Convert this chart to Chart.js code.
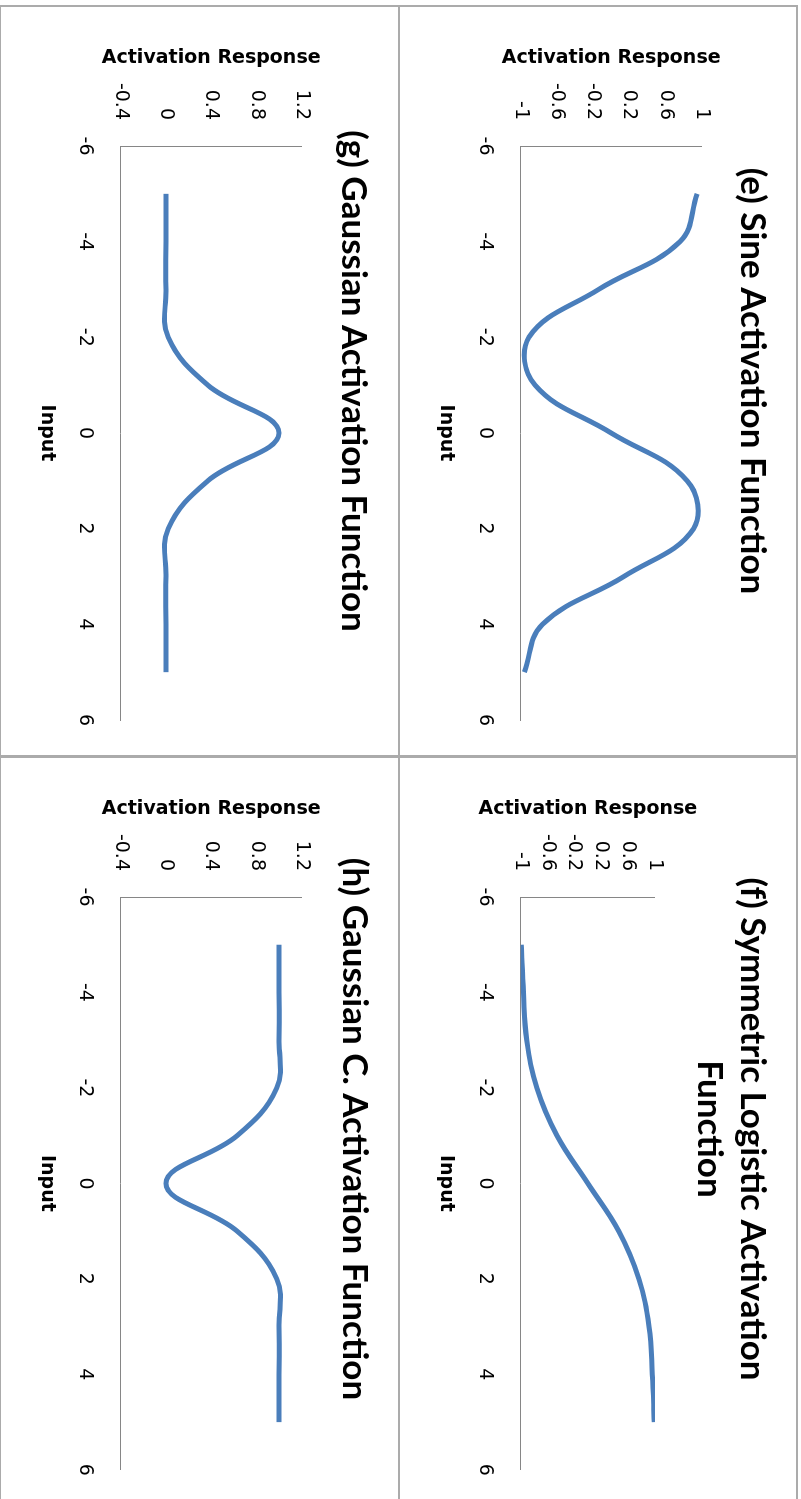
<!DOCTYPE html>
<html><head><meta charset="utf-8">
<script src="https://cdn.jsdelivr.net/npm/chart.js@4/dist/chart.umd.min.js"></script>
<style>
html,body{margin:0;padding:0;background:#fff;overflow:hidden;width:801px;height:1499px;}
#stage{position:absolute;left:0;top:0;width:1499px;height:801px;transform-origin:0 0;transform:translate(801px,0) rotate(90deg);}
.panel{position:absolute;box-sizing:border-box;border:2px solid #ababab;background:#fff;overflow:hidden;}
.panel canvas{position:absolute;left:0;top:0;}
</style></head><body>
<div id="stage">
 <div class="panel" style="left:5px;top:3px;width:752px;height:400px"><canvas id="ce" width="748" height="396"></canvas></div>
 <div class="panel" style="left:756px;top:3px;width:746px;height:400px"><canvas id="cf" width="742" height="396"></canvas></div>
 <div class="panel" style="left:5px;top:401px;width:752px;height:401px"><canvas id="cg" width="748" height="397"></canvas></div>
 <div class="panel" style="left:756px;top:401px;width:746px;height:401px"><canvas id="ch" width="742" height="397"></canvas></div>
</div>
<script>
// ---- data ----
const inputs = [-5, -4, -3, -2, -1, 0, 1, 2, 3, 4, 5];
const sineValues = [0.95, 0.76, -0.14, -0.91, -0.84, 0, 0.84, 0.91, 0.14, -0.76, -0.96];
const symLogisticValues = [-0.99, -0.96, -0.91, -0.76, -0.46, 0, 0.46, 0.76, 0.91, 0.96, 0.99];
const gaussianValues = [0, 0, 0, 0.02, 0.37, 1, 0.37, 0.02, 0, 0, 0];
const gaussianCValues = [1, 1, 1, 0.98, 0.63, 0, 0.63, 0.98, 1, 1, 1];
const xTicks = [-6, -4, -2, 0, 2, 4, 6];
const yTicksSym = [-1, -0.6, -0.2, 0.2, 0.6, 1];
const yTicksGauss = [-0.4, 0, 0.4, 0.8, 1.2];
const titleE = '(e) Sine Activation Function';
const titleF = ['(f) Symmetric Logistic Activation', 'Function'];
const titleG = '(g) Gaussian Activation Function';
const titleH = '(h) Gaussian C. Activation Function';
const xAxisTitle = 'Input';
const yAxisTitle = 'Activation Response';

// ---- style / layout ----
const TITLE_FONT = 'Lato, "Open Sans", "DejaVu Sans", sans-serif';
const AXIS_FONT = '"DejaVu Sans", "Open Sans", sans-serif';
const LINE_COLOR = '#4a7ebb';
const AXIS_COLOR = '#868686';
const TITLE_SIZE = 35, TITLE_LH = 43;
const AXT_SIZE = 19, AXT_LH = 19 * 1.2;
const TICK_SIZE = 19, TICK_LH = 19 * 1.2;
const fmt = v => String(Math.round(v * 10) / 10);

function makeChart(id, title, values, yTicks, layout) {
  const canvas = document.getElementById(id);
  const W = canvas.width, H = canvas.height;
  const lines = Array.isArray(title) ? title.length : 1;
  const tPadTop = layout.titleCenter - TITLE_LH / 2;
  const tPadBottom = layout.top - tPadTop - lines * TITLE_LH;
  return new Chart(canvas, {
    type: 'line',
    data: {
      datasets: [{
        data: inputs.map((x, i) => ({x: x, y: values[i]})),
        borderColor: LINE_COLOR,
        borderWidth: 5,
        pointRadius: 0,
        tension: 0.4,
        fill: false
      }]
    },
    options: {
      responsive: false,
      animation: false,
      devicePixelRatio: 1,
      layout: {padding: 0},
      plugins: {
        legend: {display: false},
        tooltip: {enabled: false},
        title: {
          display: true,
          text: title,
          color: '#000',
          font: {family: TITLE_FONT, size: TITLE_SIZE, weight: 'bold', lineHeight: TITLE_LH / TITLE_SIZE},
          padding: {top: tPadTop, bottom: tPadBottom}
        }
      },
      scales: {
        x: {
          type: 'linear', position: 'bottom', min: xTicks[0], max: xTicks[xTicks.length - 1],
          grid: {display: false, drawTicks: false},
          border: {display: true, color: AXIS_COLOR, width: 1},
          ticks: {color: '#000', font: {family: AXIS_FONT, size: TICK_SIZE}, padding: 35.5 - TICK_LH / 2, autoSkip: false, maxRotation: 0, callback: fmt},
          afterBuildTicks: s => { s.ticks = xTicks.map(v => ({value: v})); },
          title: {display: true, text: xAxisTitle, color: '#000', font: {family: AXIS_FONT, size: AXT_SIZE, weight: 'bold'}, padding: {top: 0, bottom: 46 - AXT_LH / 2}},
          afterFit: s => { s.height = H - layout.bottom; }
        },
        y: {
          type: 'linear', position: 'left', min: yTicks[0], max: yTicks[yTicks.length - 1],
          grid: {display: false, drawTicks: false},
          border: {display: true, color: AXIS_COLOR, width: 1},
          ticks: {color: '#000', font: {family: AXIS_FONT, size: TICK_SIZE}, padding: 26, autoSkip: false, callback: fmt},
          afterBuildTicks: s => { s.ticks = yTicks.map(v => ({value: v})); },
          title: {display: true, text: yAxisTitle, color: '#000', font: {family: AXIS_FONT, size: AXT_SIZE, weight: 'bold'}, padding: {top: 51 - AXT_LH / 2, bottom: 0}},
          afterFit: s => { s.width = 139; }
        },
        yr: {
          type: 'linear', axis: 'y', position: 'right', display: true, min: 0, max: 1,
          grid: {display: false, drawTicks: false}, border: {display: false}, ticks: {display: false},
          afterFit: s => { s.width = W - layout.right; }
        }
      }
    }
  });
}

makeChart('ce', titleE, sineValues, yTicksSym, {titleCenter: 44, top: 94.3, bottom: 275.3, right: 713});
makeChart('cf', titleF, symLogisticValues, yTicksSym, {titleCenter: 44, top: 141, bottom: 275.3, right: 712});
makeChart('cg', titleG, gaussianValues, yTicksGauss, {titleCenter: 45, top: 96.3, bottom: 277.3, right: 713});
makeChart('ch', titleH, gaussianCValues, yTicksGauss, {titleCenter: 44, top: 96.3, bottom: 277.3, right: 712});
</script>
</body></html>
